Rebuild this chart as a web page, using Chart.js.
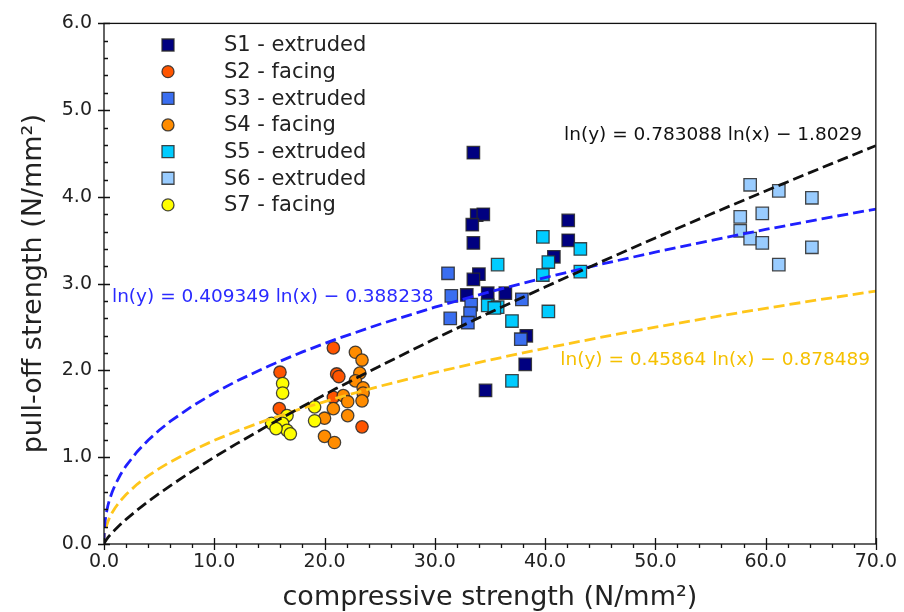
<!DOCTYPE html>
<html><head><meta charset="utf-8">
<script src="https://cdn.jsdelivr.net/npm/chart.js@4/dist/chart.umd.min.js"></script>
<style>html,body{margin:0;padding:0;background:#fff}#wrap{width:904px;height:612px;position:relative}canvas{display:block}</style>
</head><body><div id="wrap"><canvas id="c" width="904" height="612" style="width:904px;height:612px"></canvas></div>
<script>
// ---- data ----
const seriesNames = ['S1 - extruded','S2 - facing','S3 - extruded','S4 - facing','S5 - extruded','S6 - extruded','S7 - facing'];
const s1Compressive = [33.5,33.8,34.4,33.4,33.5,34.0,33.5,32.9,34.8,36.4,42.1,42.1,40.8,38.3,38.2,34.6];
const s1PullOff     = [4.51,3.79,3.80,3.68,3.47,3.11,3.05,2.87,2.89,2.89,3.73,3.50,3.31,2.40,2.07,1.77];
const s2Compressive = [15.96,15.9,20.8,21.1,21.3,20.8,23.4];
const s2PullOff     = [1.98,1.56,2.26,1.96,1.93,1.69,1.35];
const s3Compressive = [31.2,31.5,31.4,33.3,33.2,33.0,37.9,37.8];
const s3PullOff     = [3.12,2.86,2.60,2.76,2.66,2.55,2.82,2.36];
const s4Compressive = [22.8,23.4,23.2,22.8,23.5,23.5,21.7,22.1,20.8,23.4,20.0,22.1,20.0,20.9];
const s4PullOff     = [2.21,2.12,1.97,1.88,1.80,1.74,1.71,1.64,1.56,1.65,1.45,1.48,1.24,1.17];
const s5Compressive = [35.7,34.8,35.7,37.0,39.8,40.3,39.8,43.2,43.2,40.3,37.0,35.4];
const s5PullOff     = [3.22,2.75,2.73,2.57,3.54,3.25,3.10,3.40,3.14,2.68,1.88,2.72];
const s6Compressive = [58.6,61.2,64.2,57.7,59.7,57.7,58.6,59.7,64.2,61.2];
const s6PullOff     = [4.14,4.07,3.99,3.77,3.81,3.61,3.52,3.47,3.42,3.22];
const s7Compressive = [16.2,16.2,19.1,16.6,19.1,15.2,16.2,16.6,16.9,15.6];
const s7PullOff     = [1.85,1.74,1.58,1.48,1.42,1.39,1.39,1.31,1.27,1.33];

// fitted curves as printed on the chart: ln(y) = a ln(x) + b
const fitSlopes     = [0.783088, 0.409349, 0.45864];
const fitIntercepts = [-1.8029, -0.388238, -0.878489];
const fitLabels     = ['ln(y) = 0.783088 ln(x) \u2212 1.8029','ln(y) = 0.409349 ln(x) \u2212 0.388238','ln(y) = 0.45864 ln(x) \u2212 0.878489'];
const curveX = [0,0.02,0.05,0.1,0.2,0.35,0.5,0.75,1,1.5,2,3,4,5,6,8,10,12,15,18,21,25,30,35,40,45,50,55,60,65,70];

const xTicks = [0,10,20,30,40,50,60,70];
const yTicks = [0,1,2,3,4,5,6];

// ---- styling ----
const seriesX = [s1Compressive,s2Compressive,s3Compressive,s4Compressive,s5Compressive,s6Compressive,s7Compressive];
const seriesY = [s1PullOff,s2PullOff,s3PullOff,s4PullOff,s5PullOff,s6PullOff,s7PullOff];
const seriesColors = ['#000080','#ff5500','#3a6ef0','#ff8c00','#00ccff','#99ccff','#ffff00'];
const seriesShapes = ['rect','circle','rect','circle','rect','rect','circle'];
const fitColors = ['#111111','#1f1fff','#ffc61a'];

const F = 'DejaVu Sans';
const datasets = [];
seriesNames.forEach((n,i)=>{
  datasets.push({
    type:'scatter', label:n,
    data: seriesX[i].map((x,j)=>({x:x,y:seriesY[i][j]})),
    pointStyle: seriesShapes[i],
    pointRadius: seriesShapes[i]==='rect'?8.8:6.2,
    pointHoverRadius: seriesShapes[i]==='rect'?8.8:6.2,
    backgroundColor: seriesColors[i],
    borderColor: 'rgba(40,40,40,0.85)',
    pointBorderWidth: 1.3,
    borderWidth: 1.3,
    order: 10 - i
  });
});
fitSlopes.forEach((a,k)=>{
  const b = fitIntercepts[k];
  datasets.push({
    type:'line', label:'fit'+k,
    data: curveX.map(x=>({x:x, y: x===0?0:Math.exp(b + a*Math.log(x))})),
    borderColor: fitColors[k], borderWidth: 2.8, borderDash:[11,5],
    pointRadius:0, fill:false, tension:0, order: k===0?0:1
  });
});

const decor = {
  id:'decor',
  afterDatasetsDraw(chart){
    const ctx = chart.ctx, ca = chart.chartArea;
    const xs = chart.scales.x, ys = chart.scales.y;
    ctx.save();
    ctx.strokeStyle = '#111'; ctx.lineWidth = 1.3;
    ctx.strokeRect(ca.left, ca.top, ca.right-ca.left, ca.bottom-ca.top);
    ctx.beginPath();
    for (let k=0; k<=35; k++){
      const v = k*2;
      const p = Math.round(xs.getPixelForValue(v))+0.5;
      if (k%5===0){ ctx.moveTo(p, ca.bottom-6); ctx.lineTo(p, ca.bottom+6); }
      else { ctx.moveTo(p, ca.bottom); ctx.lineTo(p, ca.bottom+4); }
    }
    for (let k=0; k<=30; k++){
      const v = k*0.2;
      const p = Math.round(ys.getPixelForValue(v))+0.5;
      if (k%5===0){ ctx.moveTo(ca.left-6, p); ctx.lineTo(ca.left+6, p); }
      else { ctx.moveTo(ca.left, p); ctx.lineTo(ca.left+4, p); }
    }
    ctx.stroke();
    ctx.font = '18.5px "'+F+'"';
    ctx.textBaseline = 'middle';
    ctx.fillStyle = fitColors[0]; ctx.textAlign='right';
    ctx.fillText(fitLabels[0], 862, 135);
    ctx.fillStyle = '#2a2aff'; ctx.textAlign='left';
    ctx.fillText(fitLabels[1], 112, 297);
    ctx.fillStyle = '#f5c000'; ctx.textAlign='right';
    ctx.fillText(fitLabels[2], 870, 360);
    ctx.font = '21px "'+F+'"';
    ctx.textAlign='left';
    seriesNames.forEach((n,i)=>{
      const y = 45 + i*26.65, x = 168;
      ctx.fillStyle = seriesColors[i];
      ctx.strokeStyle = 'rgba(40,40,40,0.85)'; ctx.lineWidth = 1.3;
      ctx.beginPath();
      if (seriesShapes[i]==='rect') ctx.rect(x-6, y-6, 12, 12);
      else ctx.arc(x, y, 6, 0, Math.PI*2);
      ctx.fill(); ctx.stroke();
      ctx.fillStyle = '#222';
      ctx.fillText(n, 224, y+1);
    });
    ctx.restore();
  }
};

new Chart(document.getElementById('c'), {
  data:{ datasets },
  options:{
    responsive:false, animation:false, devicePixelRatio:1,
    layout:{ padding:{ top:21, right:28, left:0, bottom:0 } },
    plugins:{ legend:{display:false}, tooltip:{enabled:false} },
    scales:{
      x:{ type:'linear', min:0, max:70,
        afterBuildTicks:(s)=>{ s.ticks = xTicks.map(v=>({value:v})); },
        afterFit:(s)=>{ s.height = 68; },
        grid:{ display:false, drawTicks:false }, border:{display:false},
        ticks:{ padding:7, color:'#222', font:{family:F, size:19}, callback:(v)=>Number(v).toFixed(1), maxRotation:0 },
        title:{ display:true, text:'compressive strength (N/mm\u00b2)', color:'#222', font:{family:F, size:27}, padding:{top:0,bottom:-2} }
      },
      y:{ type:'linear', min:0, max:6,
        afterBuildTicks:(s)=>{ s.ticks = yTicks.map(v=>({value:v})); },
        afterFit:(s)=>{ s.width = 104; },
        grid:{ display:false, drawTicks:false }, border:{display:false},
        ticks:{ padding:12, color:'#222', font:{family:F, size:19}, callback:(v)=>Number(v).toFixed(1) },
        title:{ display:true, text:'pull-off strength (N/mm\u00b2)', color:'#222', font:{family:F, size:27}, padding:{top:18,bottom:0} }
      }
    }
  },
  plugins:[decor]
});
</script></body></html>
